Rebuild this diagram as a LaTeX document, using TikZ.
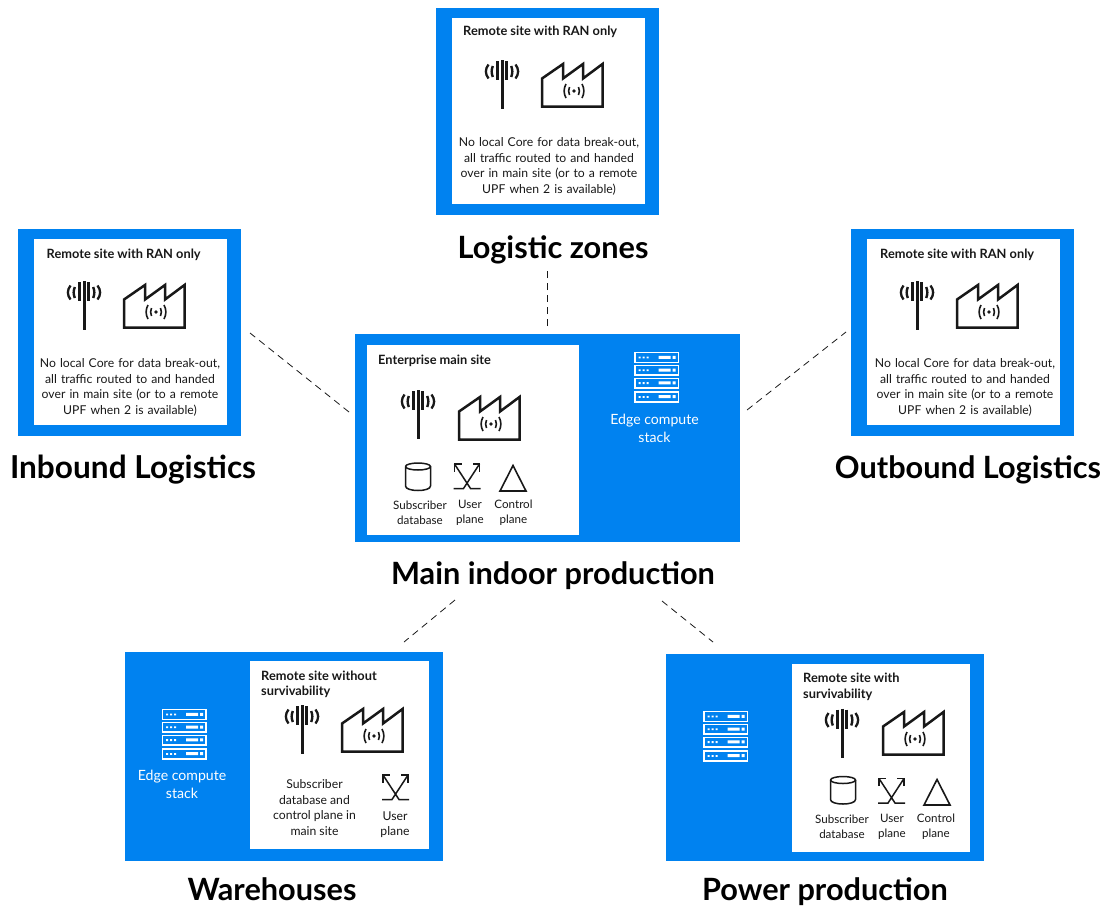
\documentclass[tikz,border=0pt]{standalone}
\usepackage{fontspec}
\setmainfont{Lato}
\definecolor{eblue}{HTML}{0082F0}
\definecolor{eink}{HTML}{181818}
\newcommand{\antennaicon}[2]{%
 \begin{scope}[shift={(#1,#2)}]
 \draw[icon,line width=3pt] (0,0)--(0,49);
 \draw[icon,line width=2.7pt] (-4.8,1)--(-4.8,20) (4.8,1)--(4.8,20);
 \draw[icon,line width=2.4pt] (-9.2,6) .. controls (-10.7,10) and (-10.7,13) .. (-9.2,17);
 \draw[icon,line width=2.4pt] (9.2,6) .. controls (10.7,10) and (10.7,13) .. (9.2,17);
 \draw[icon,line width=2.3pt] (-13.5,4.5) .. controls (-17,9) and (-17,14) .. (-13.5,18.5);
 \draw[icon,line width=2.3pt] (13.5,4.5) .. controls (17,9) and (17,14) .. (13.5,18.5);
 \end{scope}}
\newcommand{\factoryicon}[2]{%
 \begin{scope}[shift={(#1,#2)}]
 \draw[icon,line width=2.5pt,line join=miter] (0,43.5)--(0,15.5)--(21,1)--(21,15.5)--(41,1)--(41,15.5)--(60.5,1)--(60.5,43.5)--cycle;
 \fill[eink] (32,28) circle (1.8);
 \draw[icon,line width=1.6pt] (27.5,24) .. controls (26.3,26.5) and (26.3,29.5) .. (27.5,32);
 \draw[icon,line width=1.6pt] (36.5,24) .. controls (37.7,26.5) and (37.7,29.5) .. (36.5,32);
 \draw[icon,line width=1.6pt] (24,21) .. controls (21.5,25.5) and (21.5,30.5) .. (24,35);
 \draw[icon,line width=1.6pt] (40,21) .. controls (42.5,25.5) and (42.5,30.5) .. (40,35);
 \end{scope}}
\newcommand{\dbicon}[2]{%
 \begin{scope}[shift={(#1,#2)}]
 \draw[icon,line width=1.5pt] (0.5,4) arc[start angle=180,end angle=-180,x radius=12.5,y radius=3.5];
 \draw[icon,line width=1.5pt] (0.5,4)--(0.5,23.5) .. controls (0.5,29.5) and (25.5,29.5) .. (25.5,23.5)--(25.5,4);
 \end{scope}}
\newcommand{\upicon}[2]{%
 \begin{scope}[shift={(#1,#2)}]
 \draw[icon,line width=1.5pt] (0,25.5)--(10,25.5)--(26,1) (27,25.5)--(17,25.5)--(1,1);
 \draw[icon,line width=1.5pt] (1,8.5)--(1,1)--(8,1) (26,8.5)--(26,1)--(19,1);
 \end{scope}}
\newcommand{\triicon}[2]{%
 \begin{scope}[shift={(#1,#2)}]
 \draw[icon,line width=1.6pt,line join=miter] (14,1.5)--(27,27)--(1,27)--cycle;
 \end{scope}}
\newcommand{\servericon}[2]{%
 \begin{scope}[shift={(#1,#2)}]
 \foreach \r in {0,12.8,25.6,39.4}{
  \draw[white,line width=1.5pt] (0.7,\r+0.7) rectangle (44,\r+10.4);
  \fill[white] (4,\r+4.6) rectangle +(2,1.8) (8,\r+4.6) rectangle +(2,1.8) (12,\r+4.6) rectangle +(2,1.8)
    (24,\r+3.8) rectangle +(12,3) (38,\r+3.8) rectangle +(3,3);
 }
 \end{scope}}
% #1,#2 panel origin; #3 name; #4,#5 heading position; #6 body centre
\newcommand{\ranpanel}[6]{%
 \begin{scope}[shift={(#1,#2)}]
 \node[bluebox,minimum width=223,minimum height=207] (#3o) at (111.5,103.5) {};
 \node[whitebox,minimum width=193,minimum height=186] (#3i) at (112,102.5) {};
 \node[head,anchor=west] (#3h) at (#4,#5) {Remote site with RAN only};
 \antennaicon{66}{52}
 \factoryicon{106}{55}
 \node[body,text width=196] (#3t) at (#6,158.5) {No local Core for data break-out,\\all traffic routed to and handed\\over in main site (or to a remote\\UPF when 2 is available)};
 \end{scope}}
\tikzset{x=1pt,y=-1pt,
 icon/.style={draw=eink,line cap=butt},
 bluebox/.style={fill=eblue,draw=none,inner sep=0,outer sep=0},
 whitebox/.style={fill=white,draw=none,inner sep=0,outer sep=0},
 head/.style={font=\fontsize{12.8}{15}\selectfont\bfseries,text=eink,align=left,inner sep=0},
 body/.style={font=\fontsize{12.2}{15.6}\selectfont,text=eink,align=center,inner sep=0},
 small/.style={body,font=\fontsize{11.6}{15.2}\selectfont},
 edge/.style={font=\fontsize{14.1}{18}\selectfont,text=white,align=center,inner sep=0},
 title/.style={font=\fontsize{30.7}{32}\selectfont\bfseries,text=black,inner sep=0,anchor=base},
 link/.style={draw=eink,line width=0.8pt,dash pattern=on 7pt off 5pt}}
\begin{document}
\begin{tikzpicture}
\useasboundingbox (0,0) rectangle (1105,906);
\ranpanel{436}{8}{top}{27}{24}{113}
\ranpanel{18}{229}{left}{28.5}{26}{112}
\ranpanel{851}{229}{right}{29}{26}{114}
\node[title] (ttop) at (553,258) {Logistic zones};
\node[title,font=\fontsize{31.6}{32}\selectfont\bfseries] (tleft) at (133,478) {Inbound Logistics};
\node[title] (tright) at (968,478) {Outbound Logistics};
% main
\node[bluebox,minimum width=385,minimum height=208] (main) at (547.5,438) {};
\node[whitebox,minimum width=212,minimum height=190] (maini) at (473,440) {};
\node[head,anchor=west] (mainh) at (378,361) {Enterprise main site};
\antennaicon{418}{390}
\factoryicon{459}{396}
\dbicon{405}{462.5}
\upicon{453.5}{463}
\triicon{499}{464}
\node[small] (mdb) at (420,513) {Subscriber\\database};
\node[small] (mup) at (470,513) {User\\plane};
\node[small] (mcp) at (513.5,513) {Control\\plane};
\servericon{634.5}{352}
\node[edge] (mes) at (654.5,428) {Edge compute\\stack};
\node[title] (tmain) at (553,584) {Main indoor production};
% warehouses
\node[bluebox,minimum width=318,minimum height=209] (wh) at (284,756.5) {};
\node[whitebox,minimum width=179,minimum height=188] (whi) at (339.5,755) {};
\node[head,anchor=north west] (whh) at (261,670.5) {Remote site without\\survivability};
\antennaicon{302}{705}
\factoryicon{342}{708}
\node[body] (whb) at (314.5,807.5) {Subscriber\\database and\\control plane in\\main site};
\upicon{382}{774}
\node[body] (whu) at (395,824.5) {User\\plane};
\servericon{162}{709}
\node[edge] (wes) at (182,784) {Edge compute\\stack};
\node[title] (twh) at (272,900) {Warehouses};
% power
\node[bluebox,minimum width=318,minimum height=207] (pw) at (825,757.5) {};
\node[whitebox,minimum width=178,minimum height=188] (pwi) at (881,758) {};
\node[head,anchor=north west,font=\fontsize{12.8}{16}\selectfont\bfseries] (pwh) at (803,672.5) {Remote site with\\survivability};
\antennaicon{842}{708.5}
\factoryicon{883}{711}
\dbicon{830}{776}
\upicon{878}{777.5}
\triicon{923}{778}
\node[small] (pdb) at (842,826.5) {Subscriber\\database};
\node[small] (pup) at (892,826.5) {User\\plane};
\node[small] (pcp) at (936,826.5) {Control\\plane};
\servericon{703.5}{711}
\node[title] (tpw) at (825,900) {Power production};
% connectors
\coordinate (a1) at (547,326); \coordinate (a2) at (547,268);
\coordinate (b1) at (349,412); \coordinate (b2) at (250,333);
\coordinate (c1) at (747,410); \coordinate (c2) at (846,332);
\coordinate (d1) at (455,600); \coordinate (d2) at (404,642);
\coordinate (e1) at (662,601); \coordinate (e2) at (713,642);
\draw[link] (a1)--(a2);
\draw[link] (b1)--(b2);
\draw[link] (c1)--(c2);
\draw[link] (d1)--(d2);
\draw[link] (e1)--(e2);
\end{tikzpicture}
\end{document}
